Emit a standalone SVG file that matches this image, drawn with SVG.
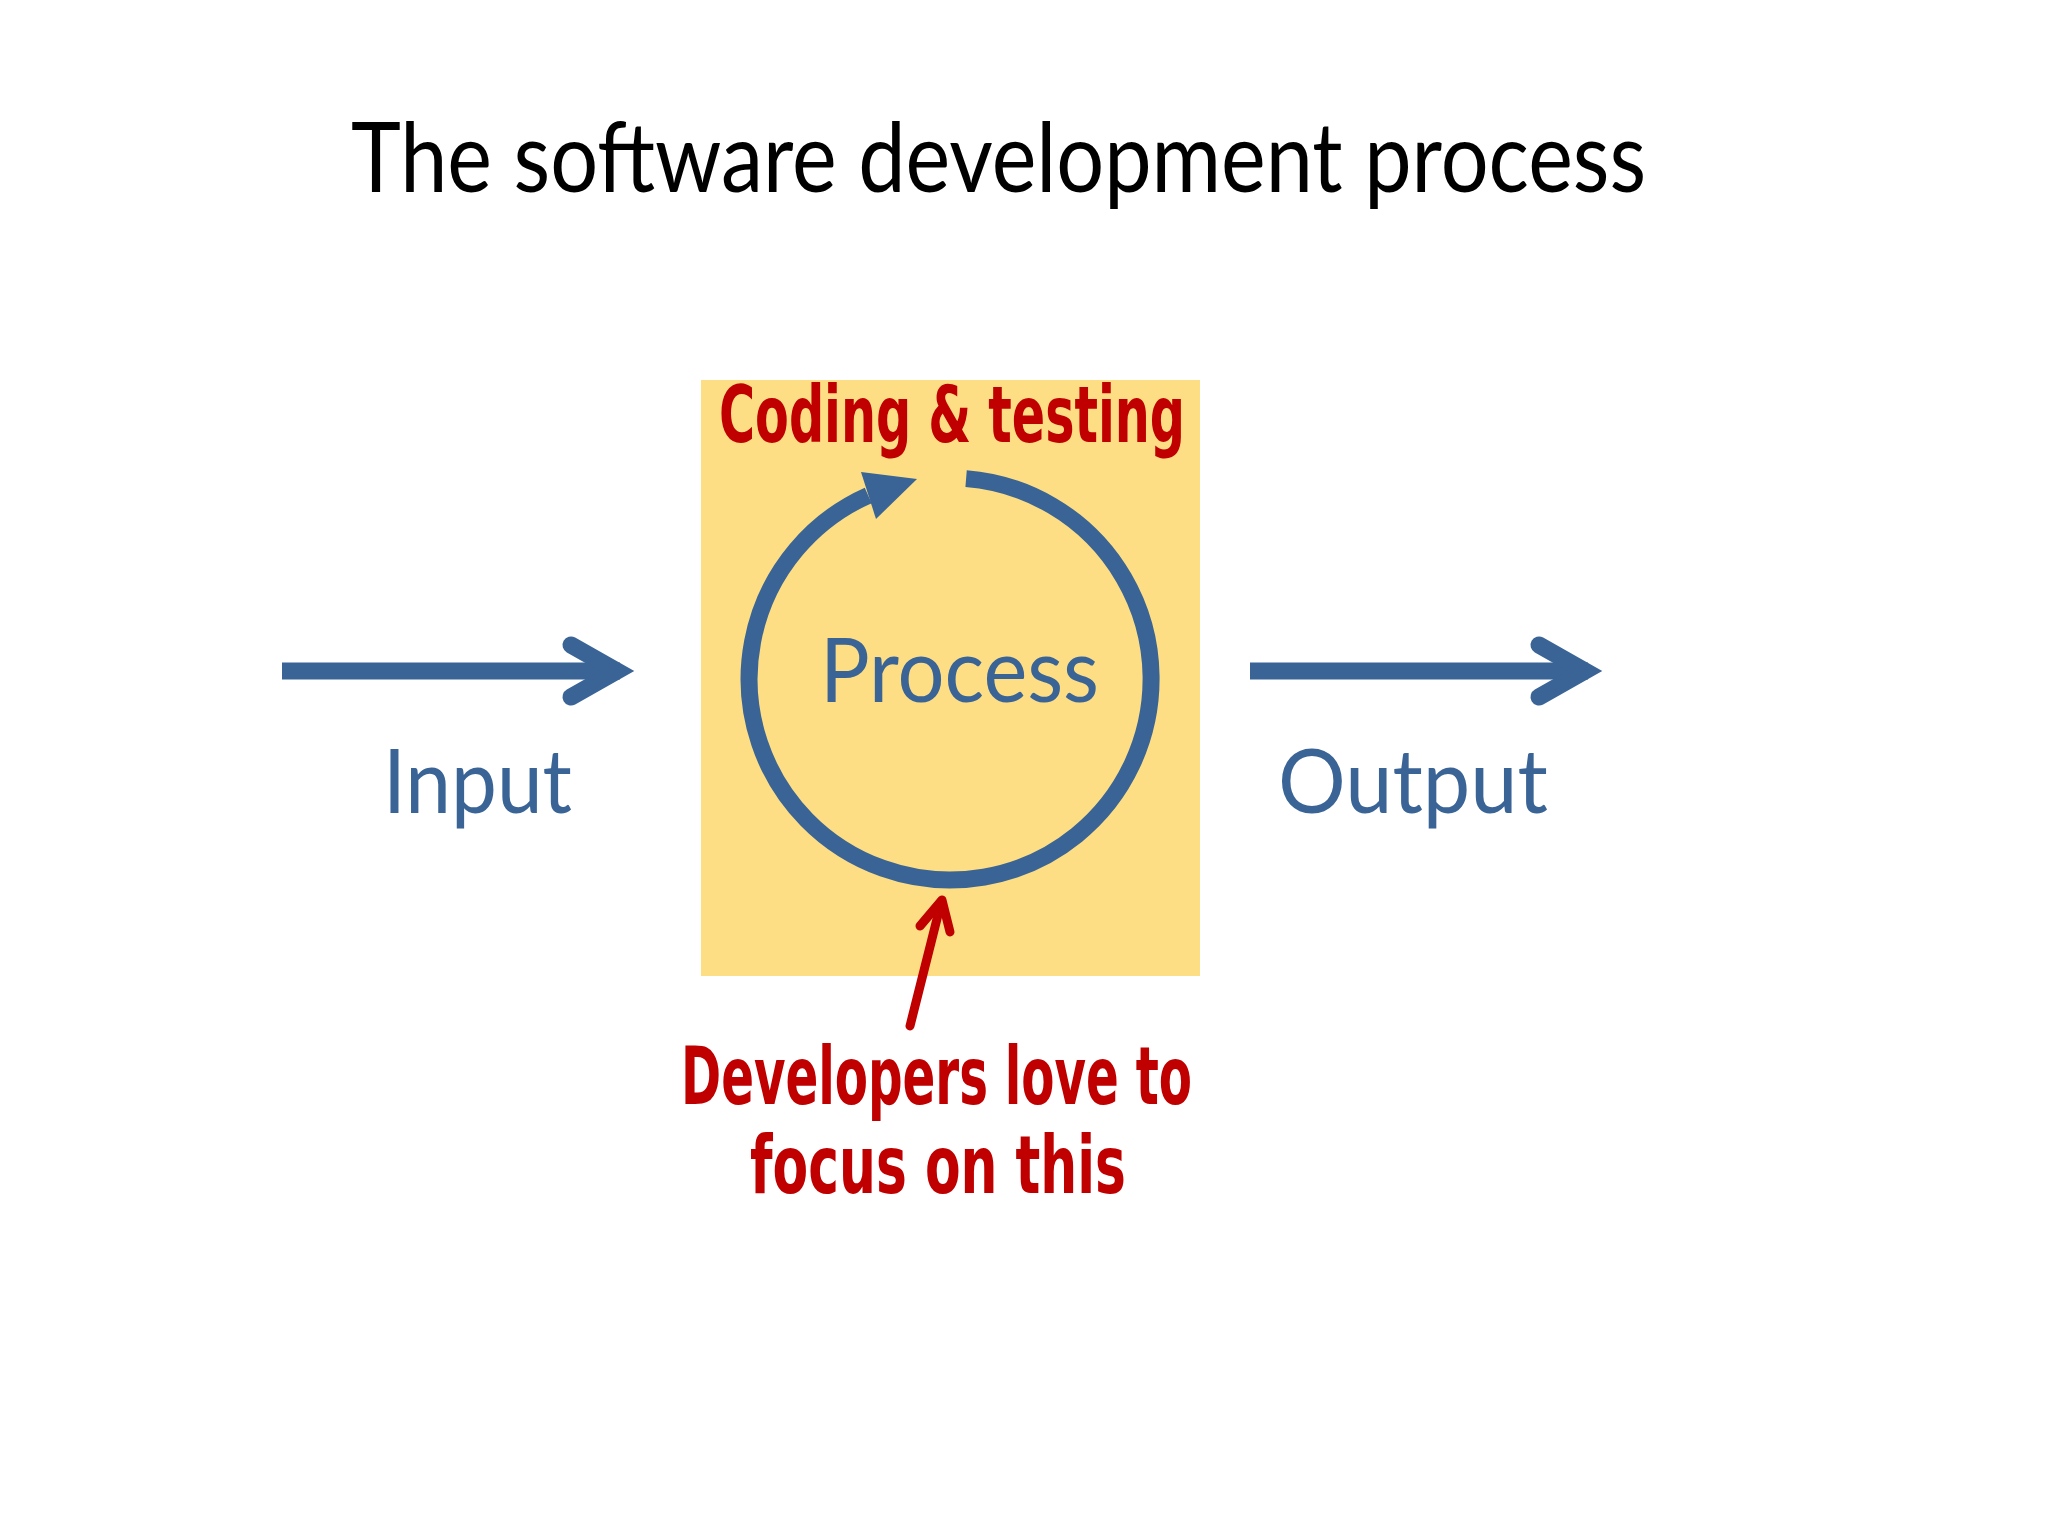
<svg xmlns="http://www.w3.org/2000/svg" width="2048" height="1536" viewBox="0 0 2048 1536">
<defs>
<style>
.blue{fill:#3A6496;font-family:Lato,"Open Sans","Liberation Sans",sans-serif;}
.red{fill:#C00000;font-family:"DejaVu Sans Condensed","DejaVu Sans",sans-serif;font-weight:bold;}
.bl{stroke:#3A6496;fill:none;stroke-width:17;}
.rd{stroke:#C00000;fill:none;stroke-width:9;stroke-linecap:round;stroke-linejoin:round;}
</style>
</defs>
<rect x="0" y="0" width="2048" height="1536" fill="#ffffff"/>
<text id="title" x="351" y="192" font-family="Lato,'Open Sans','Liberation Sans',sans-serif" font-size="96" fill="#000" textLength="1295" lengthAdjust="spacingAndGlyphs">The software development process</text>
<g id="process">
<rect x="701" y="380" width="499" height="596" fill="#FDDE84"/>
<path class="bl" d="M966.1,478.6 A201,201 0 1 1 868.2,495.4"/>
<polygon points="917,479 861,472 876,519" fill="#3A6496"/>
<text class="blue" x="820" y="702" font-size="90" textLength="279" lengthAdjust="spacingAndGlyphs">Process</text>
<text class="red" x="719" y="442" font-size="78" textLength="466" lengthAdjust="spacingAndGlyphs">Coding &amp; testing</text>
</g>
<g id="input">
<text class="blue" x="383" y="813" font-size="90" textLength="189" lengthAdjust="spacingAndGlyphs">Input</text>
</g>
<g id="output">
<text class="blue" x="1278" y="813" font-size="90" textLength="270" lengthAdjust="spacingAndGlyphs">Output</text>
</g>
<g id="note">
<text class="red" x="681" y="1104" font-size="80" textLength="511" lengthAdjust="spacingAndGlyphs">Developers love to</text>
<text class="red" x="750" y="1193" font-size="80" textLength="376" lengthAdjust="spacingAndGlyphs">focus on this</text>
</g>
<g id="connectors">
<line class="bl" x1="282" y1="671" x2="620" y2="671"/>
<polyline class="bl" points="571,645 617,671 571,697" stroke-linecap="round" stroke-linejoin="miter"/>
<line class="bl" x1="1250" y1="671" x2="1588" y2="671"/>
<polyline class="bl" points="1539,645 1585,671 1539,697" stroke-linecap="round" stroke-linejoin="miter"/>
<line class="rd" x1="910" y1="1026" x2="941" y2="903" stroke-linecap="butt"/>
<polyline class="rd" points="920,926 942,900 950,932"/>
</g>
</svg>
